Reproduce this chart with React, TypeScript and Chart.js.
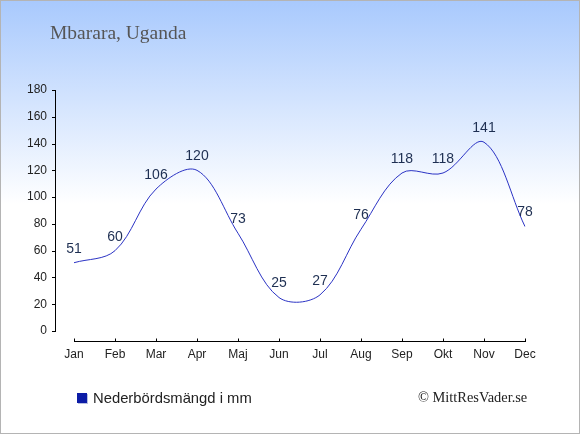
import { useEffect, useRef } from "react";
import { Chart, registerables } from "chart.js";

Chart.register(...registerables);

const months = ["Jan", "Feb", "Mar", "Apr", "Maj", "Jun", "Jul", "Aug", "Sep", "Okt", "Nov", "Dec"];
const precipitation = [51, 60, 106, 120, 73, 25, 27, 76, 118, 118, 141, 78];
const yTicks = [0, 20, 40, 60, 80, 100, 120, 140, 160, 180];
const titleText = "Mbarara, Uganda";
const legendText = "Nederbördsmängd i mm";
const creditText = "© MittResVader.se";

const sansFont = "Arial, 'Liberation Sans', sans-serif";
const serifFont = "'Liberation Serif', 'Times New Roman', serif";

const axisPlugin = {
  id: "detachedAxes",
  afterDraw(chart: any) {
    const { ctx, chartArea, scales } = chart;
    const xs = scales.x;
    const ys = scales.y;
    const axisX = chartArea.left - 19;
    const axisY = chartArea.bottom + 10;
    ctx.save();
    ctx.strokeStyle = "#000";
    ctx.lineWidth = 1;
    ctx.beginPath();
    const yTop = ys.getPixelForValue(yTicks[yTicks.length - 1]);
    const yBot = ys.getPixelForValue(yTicks[0]);
    ctx.moveTo(Math.round(axisX) + 0.5, Math.round(yTop));
    ctx.lineTo(Math.round(axisX) + 0.5, Math.round(yBot) + 1);
    yTicks.forEach((v) => {
      const py = Math.round(ys.getPixelForValue(v)) + 0.5;
      ctx.moveTo(Math.round(axisX) - 3, py);
      ctx.lineTo(Math.round(axisX) + 1, py);
    });
    const xL = xs.getPixelForValue(0);
    const xR = xs.getPixelForValue(months.length - 1);
    const py = Math.round(axisY) + 0.5;
    ctx.moveTo(Math.round(xL), py);
    ctx.lineTo(Math.round(xR) + 1, py);
    months.forEach((_, i) => {
      const px = Math.round(xs.getPixelForValue(i)) + 0.5;
      ctx.moveTo(px, py - 3);
      ctx.lineTo(px, py);
    });
    ctx.stroke();
    ctx.restore();
  },
};

const valueLabelPlugin = {
  id: "valueLabels",
  afterDatasetsDraw(chart: any) {
    const { ctx } = chart;
    const meta = chart.getDatasetMeta(0);
    ctx.save();
    ctx.font = `14px ${sansFont}`;
    ctx.fillStyle = "#1e2f52";
    ctx.textAlign = "center";
    ctx.textBaseline = "middle";
    meta.data.forEach((pt: any, i: number) => {
      ctx.fillText(String(precipitation[i]), pt.x, pt.y - 14);
    });
    ctx.restore();
  },
};

export default function App() {
  const canvasRef = useRef<HTMLCanvasElement | null>(null);

  useEffect(() => {
    document.body.style.margin = "0";
    const canvas = canvasRef.current;
    if (!canvas) return;
    const chart = new Chart(canvas, {
      type: "line",
      data: {
        labels: months,
        datasets: [
          {
            label: legendText,
            data: precipitation,
            borderColor: "#2b33c4",
            borderWidth: 1,
            pointRadius: 0,
            pointHoverRadius: 0,
            tension: 0.35,
            fill: false,
          },
        ],
      },
      options: {
        animation: false,
        responsive: false,
        maintainAspectRatio: false,
        devicePixelRatio: 1,
        layout: { padding: { left: 0, right: 55, top: 90, bottom: 74 } },
        plugins: {
          legend: { display: false },
          title: { display: false },
          tooltip: { enabled: false },
        },
        scales: {
          x: {
            offset: false,
            grid: { display: false, drawTicks: false },
            border: { display: false },
            ticks: {
              padding: 16,
              color: "#222",
              font: { family: sansFont, size: 12 },
              maxRotation: 0,
              autoSkip: false,
            },
            afterFit: (s: any) => {
              s.height = 30;
            },
          },
          y: {
            min: 0,
            max: 180,
            grid: { display: false, drawTicks: false },
            border: { display: false },
            ticks: {
              stepSize: 20,
              padding: 27,
              color: "#222",
              font: { family: sansFont, size: 12 },
            },
            afterFit: (s: any) => {
              s.width = 74;
            },
          },
        },
      },
      plugins: [axisPlugin, valueLabelPlugin],
    } as any);
    return () => chart.destroy();
  }, []);

  return (
    <div
      style={{
        position: "absolute",
        left: 0,
        top: 0,
        width: 580,
        height: 435,
        overflow: "hidden",
        background: "linear-gradient(to bottom, #a8c9fd 0%, #ffffff 47%, #ffffff 100%)",
      }}
    >
      <div
        style={{
          position: "absolute",
          left: 0,
          top: 0,
          width: 578,
          height: 432,
          border: "1px solid #b4b4b4",
        }}
      />
      <canvas
        ref={canvasRef}
        width={580}
        height={435}
        style={{ position: "absolute", left: 0, top: 0, width: 580, height: 435, display: "block" }}
      />
      <div
        style={{
          position: "absolute",
          left: 50,
          top: 22,
          fontFamily: serifFont,
          fontSize: 19.5,
          lineHeight: "22px",
          color: "#555",
          whiteSpace: "nowrap",
        }}
      >
        {titleText}
      </div>
      <div
        style={{
          position: "absolute",
          left: 77,
          top: 393,
          width: 10,
          height: 10,
          background: "#0c1ca6",
          boxShadow: "1px 1px 0 #b8bfe0",
        }}
      />
      <div
        style={{
          position: "absolute",
          left: 93,
          top: 389,
          fontFamily: sansFont,
          fontSize: 14.8,
          lineHeight: "18px",
          color: "#222",
          whiteSpace: "nowrap",
        }}
      >
        {legendText}
      </div>
      <div
        style={{
          position: "absolute",
          left: 418,
          top: 389,
          fontFamily: serifFont,
          fontSize: 14.4,
          lineHeight: "16px",
          color: "#222",
          whiteSpace: "nowrap",
        }}
      >
        {creditText}
      </div>
    </div>
  );
}
